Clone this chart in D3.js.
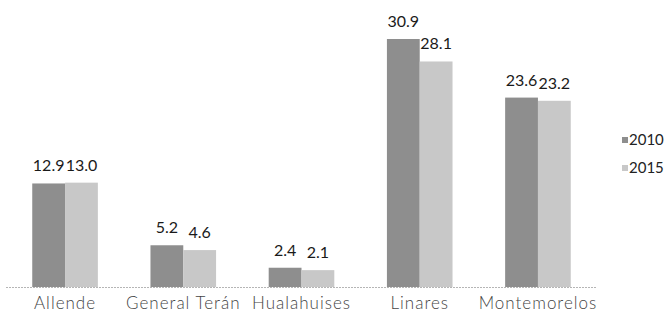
<!DOCTYPE html>
<html>
<head>
<meta charset="utf-8">
<script src="https://cdn.jsdelivr.net/npm/d3@7"></script>
<style>
  body { margin: 0; background: #fff; }
  svg text { font-family: Lato, "Noto Sans", sans-serif; }
</style>
</head>
<body>
<svg id="chart" width="671" height="315"></svg>
<script>
// municipios y valores por año
var categories = ['Allende', 'General Terán', 'Hualahuises', 'Linares', 'Montemorelos'];
var years = ['2010', '2015'];
var values2010 = [12.9, 5.2, 2.4, 30.9, 23.6];
var values2015 = [13.0, 4.6, 2.1, 28.1, 23.2];
var colors = ['#8e8e8e', '#c8c8c8'];

var svg = d3.select('#chart'),
    baseY = 287,
    left = 6, right = 597;

var x0 = d3.scaleBand().domain(categories)
    .range([left, right])
    .paddingInner(0.445).paddingOuter(0.222);

var x1 = d3.scaleBand().domain(years)
    .range([0, x0.bandwidth()]);

var y = d3.scaleLinear().domain([0, 30.9]).range([baseY, 39]);

var rows = categories.map(function(c, i) {
    return {cat: c, vals: [
        {year: years[0], v: values2010[i], col: colors[0]},
        {year: years[1], v: values2015[i], col: colors[1]}
    ]};
});

var groups = svg.selectAll('.grp').data(rows).enter()
    .append('g').attr('class', 'grp')
    .attr('transform', function(d) { return 'translate(' + x0(d.cat) + ',0)'; });

groups.selectAll('rect').data(function(d) { return d.vals; }).enter()
    .append('rect')
    .attr('x', function(d) { return x1(d.year); })
    .attr('y', function(d) { return y(d.v); })
    .attr('width', x1.bandwidth())
    .attr('height', function(d) { return baseY - y(d.v); })
    .attr('fill', function(d) { return d.col; });

groups.selectAll('text.val').data(function(d) { return d.vals; }).enter()
    .append('text').attr('class', 'val')
    .attr('x', function(d) { return x1(d.year) + x1.bandwidth() / 2; })
    .attr('y', function(d) { return y(d.v) - 12; })
    .attr('text-anchor', 'middle')
    .attr('font-size', 16)
    .attr('fill', '#1a1a1a')
    .text(function(d) { return d.v.toFixed(1); });

// baseline
svg.append('line')
    .attr('x1', left).attr('x2', right)
    .attr('y1', baseY + 0.5).attr('y2', baseY + 0.5)
    .attr('stroke', '#b5b5b5').attr('stroke-dasharray', '2,1');

// category labels
var xAxis = d3.axisBottom(x0).tickSize(0).tickPadding(10);
var ax = svg.append('g').attr('transform', 'translate(0,' + baseY + ')').call(xAxis);
ax.select('.domain').remove();
ax.selectAll('text')
    .attr('font-size', 17)
    .attr('fill', '#444')
    .attr('letter-spacing', 1)
    .style('font-weight', 300)
    .style('font-family', 'Lato, "Noto Sans", sans-serif');

// legend
var leg = svg.selectAll('.leg').data(years).enter()
    .append('g').attr('class', 'leg')
    .attr('transform', function(d, i) { return 'translate(622,' + (140 + i * 28) + ')'; });
leg.append('rect')
    .attr('x', 0).attr('y', -3).attr('width', 6).attr('height', 6)
    .attr('fill', function(d, i) { return colors[i]; });
leg.append('text')
    .attr('x', 7).attr('y', 5)
    .attr('font-size', 15)
    .attr('fill', '#222')
    .text(function(d) { return d; });
</script>
</body>
</html>
